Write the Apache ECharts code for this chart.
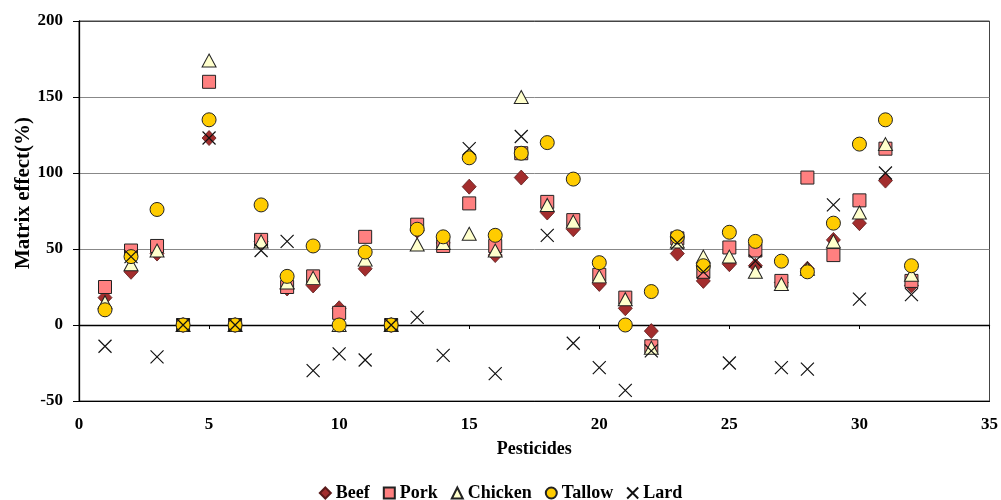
<!DOCTYPE html>
<html>
<head>
<meta charset="utf-8">
<script src="https://cdn.jsdelivr.net/npm/echarts@6/dist/echarts.min.js"></script>
<style>html,body{margin:0;padding:0;background:#fff}#c{width:1001px;height:500px}</style>
</head>
<body>
<div id="c"></div>
<script>
var pesticides = [1,2,3,4,5,6,7,8,9,10,11,12,13,14,15,16,17,18,19,20,21,22,23,24,25,26,27,28,29,30,31,32];
var beef    = [18,35,47,0,123,0,55,24,26,11,37,0,62,54,91,46,97,74,63,27,11,-4,47,29,40,39,28,37,56,67,95,26];
var pork    = [25,49,52,0,160,0,56,25,32,8,58,0,66,52,80,52,113,81,69,33,18,-14,57,35,51,49,29,97,46,82,116,29];
var chicken = [15,40,49,0,174,0,55,28,31,0,43,0,53,54,60,49,150,79,68,32,17,-15,55,45,45,35,27,37,55,74,119,33];
var tallow  = [10,45,76,0,135,0,79,32,52,0,48,0,63,58,110,59,113,120,96,41,0,22,58,39,61,55,42,35,67,119,135,39];
var lard    = [-14,45,-21,0,123,0,49,55,-30,-19,-23,0,5,-20,116,-32,124,59,-12,-28,-43,-17,54,35,-25,42,-28,-29,79,17,100,20];
var seriesNames = ['Beef','Pork','Chicken','Tallow','Lard'];
var xTicks = {min:0, max:35, interval:5};
var yTicks = {min:-50, max:200, interval:50};

function pts(arr){ return pesticides.map(function(p,i){ return [p, arr[i]]; }); }
var FONT = '"Liberation Serif", "Times New Roman", serif';
var crossPath = 'path://M0,0L10,10M10,0L0,10';

var chart = echarts.init(document.getElementById('c'), null, {renderer:'canvas'});
var styles = [
  {data: beef,    symbol:'diamond', size:[14,15], color:'#A32D2D', border:'#5a1a1a', bw:0.8},
  {data: pork,    symbol:'rect',    size:13, color:'#FF8080', border:'#222', bw:1},
  {data: chicken, symbol:'triangle',size:[14,13], color:'#FFFFCC', border:'#222', bw:1},
  {data: tallow,  symbol:'circle',  size:14, color:'#FFCC00', border:'#222', bw:1},
  {data: lard,    symbol:crossPath, size:13, color:'#000', border:'#111', bw:1.2}
];
var series = styles.map(function(s, i){
  return {
    name: seriesNames[i], type:'scatter', xAxisIndex:0, yAxisIndex:0,
    symbol: s.symbol, symbolSize: s.size,
    itemStyle: {color: s.color, borderColor: s.border, borderWidth: s.bw, opacity:1},
    emphasis: {disabled:true},
    data: pts(s.data), z: 3 + i
  };
});

chart.setOption({
  animation:false,
  backgroundColor:'#fff',
  grid:{left:79, right:10, top:21, bottom:99, show:true, borderColor:'#444', borderWidth:1},
  legend:{
    top:479, left:'center',
    itemWidth:11, itemHeight:11, itemGap:13,
    textStyle:{fontFamily:FONT, fontWeight:'bold', fontSize:18, color:'#000'},
    data: seriesNames
  },
  graphic:[{
    type:'text', x:24, y:193, rotation:Math.PI/2,
    style:{text:'Matrix effect(%)', font:'bold 21px ' + FONT, fill:'#000', align:'center', verticalAlign:'middle', textAlign:'center', textVerticalAlign:'middle'}
  }],
  xAxis:[{
    type:'value', min:xTicks.min, max:xTicks.max, interval:xTicks.interval, position:'bottom',
    axisLine:{show:true, onZero:false, lineStyle:{color:'#000', width:1}},
    axisTick:{show:false},
    axisLabel:{margin:15, fontFamily:FONT, fontWeight:'bold', fontSize:17, color:'#000'},
    splitLine:{show:false},
    name:'Pesticides', nameLocation:'middle', nameGap:39,
    nameTextStyle:{fontFamily:FONT, fontWeight:'bold', fontSize:18, color:'#000'}
  },{
    type:'value', min:xTicks.min, max:xTicks.max, interval:xTicks.interval, position:'bottom',
    axisLine:{show:true, onZero:true, onZeroAxisIndex:0, lineStyle:{color:'#000', width:1.3}},
    axisTick:{show:true, inside:false, length:4, lineStyle:{color:'#000'}},
    axisLabel:{show:false},
    splitLine:{show:false}
  }],
  yAxis:{
    type:'value', min:yTicks.min, max:yTicks.max, interval:yTicks.interval,
    axisLine:{show:true, lineStyle:{color:'#000', width:1.3}},
    axisTick:{show:true, length:6, lineStyle:{color:'#000'}},
    axisLabel:{margin:16, fontFamily:FONT, fontWeight:'bold', fontSize:17, color:'#000'},
    splitLine:{show:true, lineStyle:{color:['#000','#000','#888','#888','#888','#444'], width:1}}
  },
  series: series
});
</script>
</body>
</html>
